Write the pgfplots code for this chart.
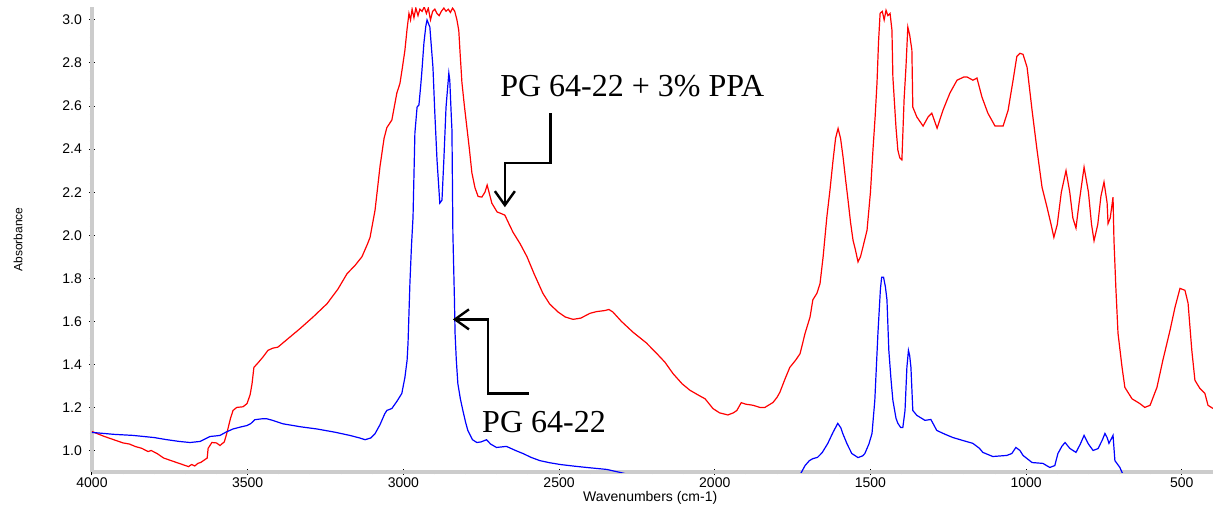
\documentclass[border=0pt]{standalone}
\usepackage{fontspec}
\setmainfont{Liberation Serif}
\newfontfamily\arial{Liberation Sans}
\usepackage{pgfplots}
\pgfplotsset{compat=1.18}
\usetikzlibrary{arrows.meta}

\begin{document}
\begin{tikzpicture}
\begin{axis}[
  at={(0,0)}, anchor=south west,
  scale only axis,
  width=560.5pt, height=232.5pt,
  x dir=reverse,
  xmin=400, xmax=4000,
  ymin=0.9, ymax=3.06,
  axis x line=bottom, axis y line=left,
  axis line style={-, gray!40, line width=1.6pt},
  xtick={500,1000,...,4000},
  ytick={1.0,1.2,...,3.01},
  minor x tick num=4,
  minor y tick num=4,
  tick align=center,
  major tick length=3pt, minor tick length=2pt,
  tick style={black, line width=0.5pt},
  every tick label/.append style={font=\arial\fontsize{7}{8}\selectfont},
  /pgf/number format/assume math mode=true,
  xticklabel style={/pgf/number format/1000 sep={}, yshift=2pt},
  yticklabel style={/pgf/number format/.cd, fixed, fixed zerofill, precision=1},
  xlabel={Wavenumbers (cm-1)},
  ylabel={Absorbance},
  xlabel style={font=\arial\fontsize{7}{8}\selectfont, at={(axis description cs:0.498,0)}, anchor=center, yshift=-13pt},
  ylabel style={font=\arial\fontsize{6}{7}\selectfont, at={(axis description cs:-0.066,0.5)}, anchor=center, rotate=0},
]
% PG 64-22 + 3% PPA
\addplot[red, line width=0.6pt] coordinates {
(4000,1.088) (3960,1.065) (3930,1.05) (3900,1.035) (3880,1.03) (3860,1.018)
(3840,1.01) (3820,0.995) (3810,1.0) (3790,0.985) (3770,0.965) (3750,0.955)
(3730,0.945) (3710,0.935) (3700,0.93) (3690,0.925) (3680,0.935) (3670,0.928)
(3660,0.94) (3650,0.945) (3640,0.955) (3630,0.965) (3627,1.01) (3615,1.037)
(3600,1.035) (3589,1.023) (3575,1.04) (3567,1.08) (3555,1.15) (3547,1.186)
(3535,1.2) (3515,1.203) (3502,1.218) (3492,1.26) (3486,1.31) (3480,1.386)
(3465,1.41) (3451,1.434) (3435,1.465) (3420,1.475) (3403,1.48) (3370,1.52)
(3332,1.566) (3290,1.62) (3245,1.682) (3210,1.75) (3181,1.821) (3155,1.86)
(3133,1.9) (3115,1.96) (3107,1.99) (3091,2.116) (3082,2.23) (3075,2.32)
(3062,2.45) (3053,2.50) (3037,2.535) (3021,2.66) (3011,2.705) (3003,2.78)
(2995,2.86) (2988,2.96) (2982,3.03) (2977,3.0) (2972,3.05) (2966,3.01)
(2960,3.055) (2953,3.02) (2947,3.05) (2940,3.04) (2933,3.06) (2926,3.03)
(2920,3.055) (2913,3.0) (2906,3.04) (2899,3.05) (2892,3.03) (2885,3.02)
(2878,3.04) (2870,3.055) (2863,3.04) (2856,3.05) (2849,3.035) (2842,3.055)
(2835,3.04) (2828,3.0) (2822,2.95) (2818,2.85) (2812,2.71) (2804,2.60)
(2796,2.50) (2788,2.40) (2780,2.29) (2770,2.22) (2760,2.18) (2748,2.177)
(2738,2.2) (2731,2.233) (2725,2.2) (2716,2.149) (2699,2.108) (2685,2.10)
(2674,2.093) (2660,2.05) (2648,2.014) (2625,1.96) (2603,1.90) (2580,1.82)
(2552,1.73) (2530,1.68) (2503,1.643) (2480,1.62) (2455,1.609) (2430,1.615)
(2401,1.637) (2380,1.645) (2353,1.65) (2340,1.655) (2327,1.643) (2300,1.60)
(2263,1.55) (2220,1.50) (2186,1.45) (2160,1.41) (2134,1.357) (2105,1.31)
(2080,1.28) (2050,1.255) (2031,1.24) (2006,1.195) (1985,1.175) (1958,1.165)
(1940,1.175) (1929,1.186) (1915,1.222) (1900,1.215) (1877,1.21) (1855,1.2)
(1839,1.2) (1813,1.223) (1800,1.247) (1791,1.27) (1775,1.33) (1759,1.386)
(1740,1.42) (1726,1.45) (1710,1.544) (1694,1.62) (1685,1.70) (1672,1.73)
(1662,1.775) (1652,1.9) (1640,2.085) (1630,2.21) (1620,2.35) (1612,2.45)
(1604,2.496) (1596,2.45) (1588,2.363) (1580,2.26) (1572,2.163) (1564,2.06)
(1556,1.977) (1548,1.93) (1540,1.876) (1532,1.90) (1524,1.946) (1511,2.023)
(1500,2.2) (1492,2.395) (1485,2.55) (1479,2.707) (1474,2.9) (1469,3.03)
(1462,3.04) (1456,3.0) (1450,3.045) (1444,3.02) (1437,3.03) (1431,2.953)
(1428,2.735) (1418,2.5) (1412,2.395) (1406,2.36) (1399,2.35) (1392,2.63)
(1386,2.78) (1380,2.967) (1374,2.93) (1367,2.86) (1364,2.595) (1351,2.549)
(1331,2.507) (1315,2.549) (1303,2.567) (1286,2.497) (1267,2.581) (1245,2.66)
(1222,2.72) (1200,2.735) (1190,2.735) (1171,2.72) (1158,2.73) (1142,2.642)
(1123,2.567) (1100,2.507) (1074,2.507) (1058,2.58) (1042,2.72) (1030,2.83)
(1020,2.845) (1010,2.84) (997,2.78) (981,2.58) (965,2.395) (949,2.223)
(933,2.13) (920,2.05) (911,1.99) (900,2.05) (887,2.20) (872,2.30)
(860,2.2) (850,2.08) (840,2.033) (830,2.15) (814,2.316) (800,2.2)
(790,2.05) (782,1.974) (770,2.05) (760,2.18) (750,2.247) (740,2.15)
(737,2.054) (730,2.08) (721,2.177) (718,1.977) (712,1.758) (705,1.544)
(692,1.386) (683,1.293) (660,1.24) (635,1.218) (619,1.2) (602,1.21)
(580,1.293) (561,1.419) (538,1.558) (522,1.665) (506,1.753) (490,1.744)
(480,1.684) (468,1.465) (458,1.326) (442,1.288) (426,1.265) (416,1.21)
(400,1.195)
};
% PG 64-22
\addplot[blue, line width=0.6pt] coordinates {
(4000,1.084) (3930,1.075) (3868,1.07) (3800,1.06) (3759,1.05) (3720,1.042)
(3685,1.037) (3653,1.042) (3635,1.055) (3621,1.065) (3600,1.068) (3589,1.07)
(3570,1.085) (3547,1.1) (3520,1.11) (3502,1.116) (3490,1.125) (3477,1.143)
(3455,1.147) (3438,1.147) (3420,1.14) (3387,1.124) (3330,1.11) (3278,1.1)
(3220,1.085) (3172,1.07) (3140,1.058) (3123,1.05) (3105,1.058) (3091,1.078)
(3075,1.12) (3060,1.17) (3053,1.186) (3037,1.195) (3020,1.23) (3005,1.265)
(2995,1.34) (2988,1.42) (2985,1.5) (2979,1.777) (2974,1.95) (2969,2.084)
(2963,2.474) (2956,2.595) (2950,2.605) (2944,2.70) (2941,2.753) (2934,2.893)
(2928,2.97) (2924,3.0) (2915,2.967) (2905,2.78) (2899,2.567) (2892,2.35)
(2883,2.149) (2876,2.163) (2870,2.35) (2863,2.595) (2857,2.70) (2854,2.753)
(2851,2.72) (2846,2.55) (2844,2.488) (2841,2.009) (2836,1.70) (2834,1.544)
(2830,1.42) (2825,1.31) (2817,1.24) (2809,1.186) (2800,1.13) (2793,1.093)
(2778,1.05) (2764,1.037) (2750,1.04) (2733,1.05) (2720,1.03) (2701,1.014)
(2669,1.019) (2640,1.0) (2616,0.986) (2590,0.968) (2562,0.953) (2530,0.943)
(2497,0.935) (2450,0.927) (2411,0.921) (2347,0.912) (2304,0.898) (2280,0.89)
};
\addplot[blue, line width=0.6pt] coordinates {
(1730,0.88) (1722,0.898) (1710,0.93) (1696,0.953) (1685,0.962) (1670,0.968)
(1655,0.99) (1637,1.033) (1620,1.085) (1605,1.126) (1595,1.105) (1589,1.079)
(1575,1.03) (1560,0.986) (1540,0.967) (1525,0.975) (1518,0.986) (1505,1.03)
(1495,1.079) (1486,1.233) (1476,1.544) (1468,1.75) (1464,1.805) (1458,1.805)
(1452,1.76) (1447,1.70) (1441,1.465) (1434,1.33) (1428,1.233) (1418,1.15)
(1412,1.126) (1403,1.107) (1396,1.107) (1389,1.186) (1383,1.386) (1378,1.465)
(1374,1.44) (1370,1.386) (1364,1.186) (1351,1.163) (1325,1.14) (1306,1.144)
(1287,1.093) (1260,1.075) (1235,1.06) (1200,1.045) (1171,1.033) (1150,1.01)
(1139,0.991) (1107,0.972) (1062,0.977) (1046,0.986) (1033,1.014) (1020,1.0)
(1010,0.977) (981,0.944) (946,0.94) (924,0.921) (908,0.93) (898,0.986)
(885,1.02) (875,1.037) (860,1.01) (840,0.991) (826,1.03) (814,1.07)
(800,1.03) (785,1.0) (769,1.009) (755,1.05) (747,1.079) (740,1.06)
(734,1.033) (721,1.07) (715,0.953) (699,0.921) (692,0.898) (685,0.88)
};
% annotations
\node[anchor=base west, inner sep=0pt, font=\fontsize{16}{18}\selectfont] at (axis cs:2690,2.642) {PG 64-22 + 3\% PPA};
\node[anchor=base west, inner sep=0pt, font=\fontsize{16}{18}\selectfont] at (axis cs:2748,1.084) {PG 64-22};
\draw[line width=1.2pt, -{Straight Barb[length=7pt,width=10pt]}]
  (axis cs:2527,2.567) -- (axis cs:2527,2.335) -- (axis cs:2674,2.335) -- (axis cs:2674,2.130);
\draw[line width=1.2pt, -{Straight Barb[length=7pt,width=10pt]}]
  (axis cs:2597,1.265) -- (axis cs:2728,1.265) -- (axis cs:2728,1.609) -- (axis cs:2841,1.609);
\end{axis}
\pgfresetboundingbox
\path (-46pt,-19pt) rectangle (564pt,236pt);
\end{tikzpicture}
\end{document}
